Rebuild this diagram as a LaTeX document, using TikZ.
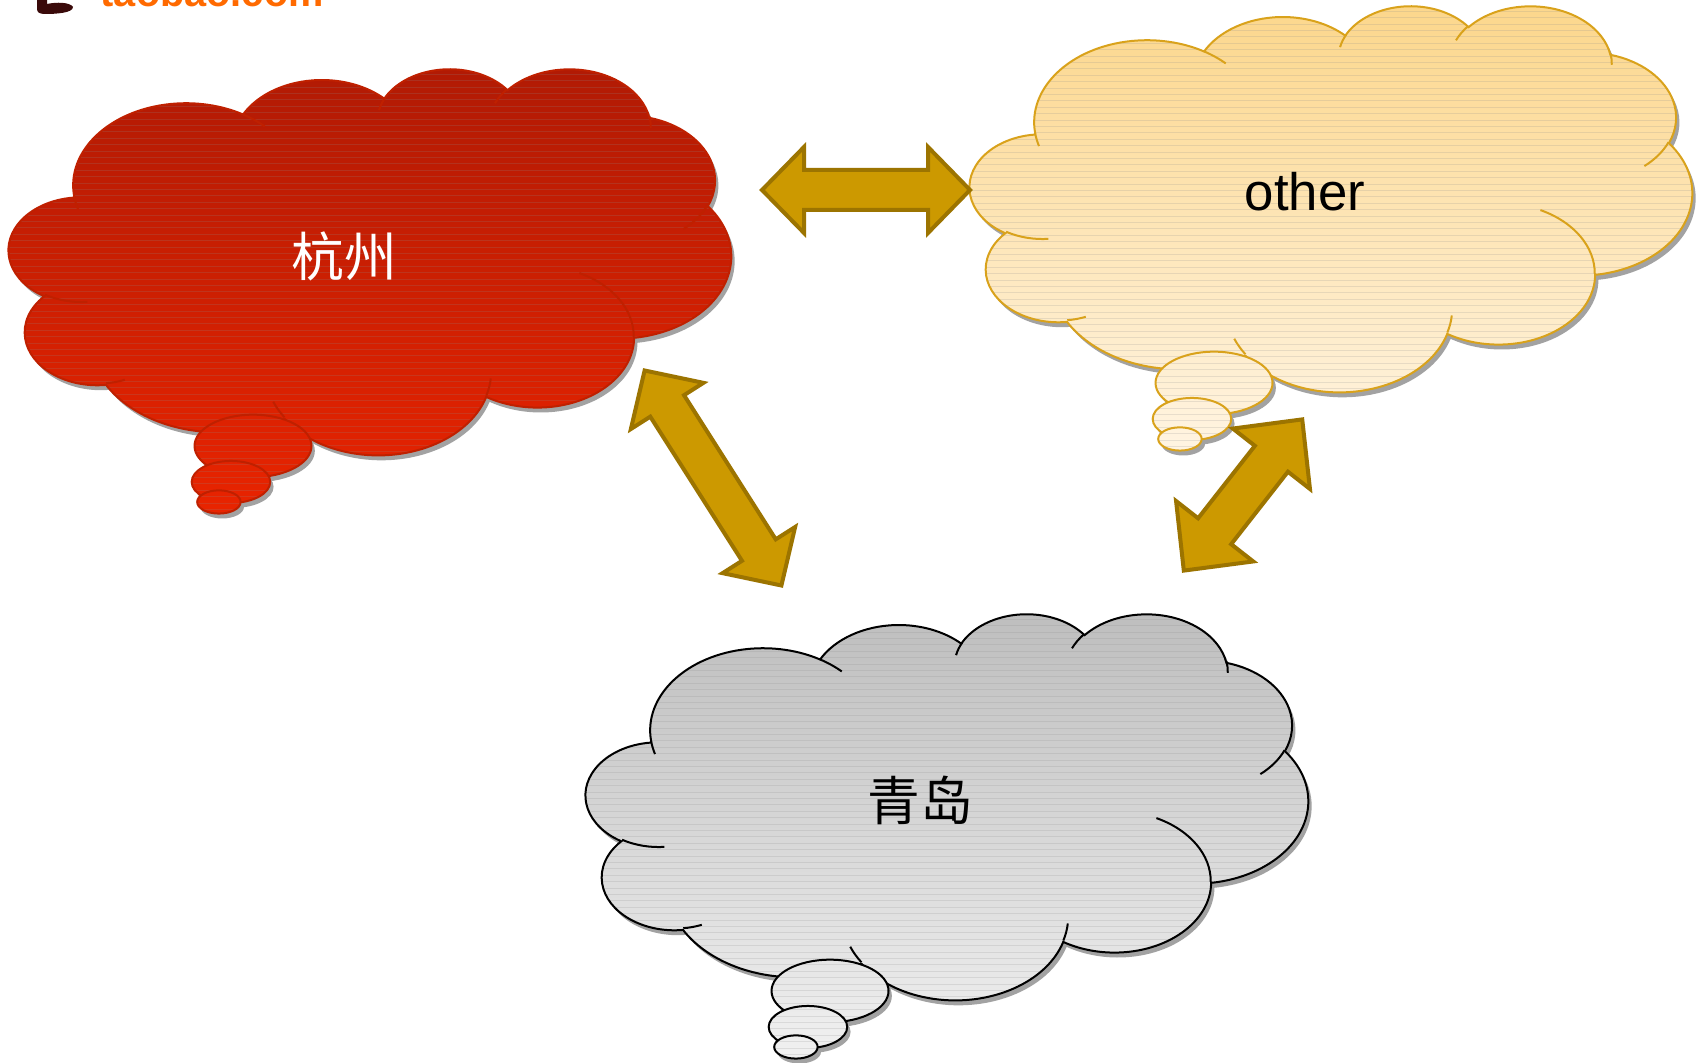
\documentclass[tikz,border=0pt]{standalone}
\usepackage{tikz}
\usepackage{fontspec}
\setmainfont{Liberation Sans}
\newfontfamily\cjk{Noto Sans CJK SC}
\usetikzlibrary{calc}

\definecolor{redtop}{HTML}{B01A04}
\definecolor{redbot}{HTML}{EA2400}
\definecolor{redline}{HTML}{BF2000}
\definecolor{yeltop}{HTML}{FCD68A}
\definecolor{yelbot}{HTML}{FFF5E4}
\definecolor{yelline}{HTML}{D9A21B}
\definecolor{graytop}{HTML}{BDBDBD}
\definecolor{graybot}{HTML}{F2F2F2}
\definecolor{arrowfill}{HTML}{CC9900}
\definecolor{arrowline}{HTML}{9C7400}
\definecolor{shadowgray}{HTML}{A2A2A2}
\definecolor{logoorange}{HTML}{FF6A00}
\definecolor{logodark}{HTML}{3A0A0A}

\tikzset{
  stripe/.style={draw=black!45, line width=0.1mm, opacity=0.2},
  blockarrow/.style={fill=arrowfill, draw=arrowline, line width=0.4mm, line join=miter},
  label/.style={font=\fontsize{15}{18}\selectfont, inner sep=0pt},
}

% ---- cloud outline (preset "cloud" geometry, 43.2 x 43.2 units) ----
\makeatletter
\newcommand\CloudArc[4]{% wR hR start sweep (degrees, visual angles)
  \pgfmathsetmacro\cl@as{#3}%
  \pgfmathsetmacro\cl@ae{#3+#4}%
  \pgfmathsetmacro\cl@ts{atan2(#1*sin(\cl@as),#2*cos(\cl@as))}%
  \pgfmathsetmacro\cl@te{atan2(#1*sin(\cl@ae),#2*cos(\cl@ae))}%
  \pgfmathsetmacro\cl@ts{\cl@ts+360*round((\cl@as-\cl@ts)/360)}%
  \pgfmathsetmacro\cl@te{\cl@te+360*round((\cl@ae-\cl@te)/360)}%
  \xdef\CloudAcc{\CloudAcc arc[start angle=\cl@ts,end angle=\cl@te,x radius=#1,y radius=#2]}%
}
\makeatother

\gdef\CloudAcc{(3.9,14.37)}
\CloudArc{6.753}{9.190}{-190.48748}{123.78053}
\CloudArc{5.333}{7.267}{-144.10238}{89.94523}
\CloudArc{4.365}{5.945}{-145.80792}{99.72302}
\CloudArc{4.857}{6.595}{-130.98607}{117.24173}
\CloudArc{5.333}{7.273}{-78.70888}{109.02692}
\CloudArc{6.775}{9.220}{-46.26725}{130.269}
\CloudArc{5.785}{7.867}{0.62502}{114.03333}
\CloudArc{6.752}{9.215}{22.4516}{115.17255}
\CloudArc{7.720}{10.543}{66.24263}{75.71102}
\CloudArc{4.360}{5.918}{-274.94208}{146.73557}
\CloudArc{4.345}{5.945}{-246.8285}{152.51885}
\global\let\CloudOutline\CloudAcc

\gdef\CloudAcc{}
\xdef\CloudAcc{\CloudAcc (4.693,26.177)}\CloudArc{4.345}{5.945}{86.742}{26.4295}
\xdef\CloudAcc{\CloudAcc (6.928,34.899)}\CloudArc{4.360}{5.918}{73.6105}{11.4475}
\xdef\CloudAcc{\CloudAcc (16.478,39.090)}\CloudArc{6.752}{9.215}{137.6242}{14.0811}
\xdef\CloudAcc{\CloudAcc (28.827,34.751)}\CloudArc{6.752}{9.215}{6.4533}{15.9984}
\xdef\CloudAcc{\CloudAcc (34.129,22.954)}\CloudArc{5.785}{7.867}{-70.2924}{70.9174}
\xdef\CloudAcc{\CloudAcc (41.798,15.354)}\CloudArc{5.333}{7.273}{30.3180}{27.7515}
\xdef\CloudAcc{\CloudAcc (38.324,5.426)}\CloudArc{4.857}{6.595}{-13.7443}{14.8589}
\xdef\CloudAcc{\CloudAcc (29.078,3.952)}\CloudArc{4.857}{6.595}{-149.1815}{18.1954}
\xdef\CloudAcc{\CloudAcc (22.141,4.720)}\CloudArc{4.365}{5.945}{-163.4943}{17.6864}
\xdef\CloudAcc{\CloudAcc (14.000,5.192)}\CloudArc{6.753}{9.190}{-66.7070}{12.3194}
\xdef\CloudAcc{\CloudAcc (4.127,15.789)}\CloudArc{6.753}{9.190}{157.6544}{11.8582}
\global\let\CloudInner\CloudAcc

% one filled part of a cloud: clip, shade, stripes, outline
\newcommand\CloudPart[4]{%
  \begin{scope}
    \clip #1;
    \shade[top color=#2,bottom color=#3] (-1,-1) rectangle (44.2,51);
    \foreach \k in {0,...,72} \draw[stripe] (-1,\k*0.716) -- (44.2,\k*0.716);
  \end{scope}
  \draw[#4, line width=0.2mm] #1;
}

% whole cloud callout: #1,#2 origin (px), #3 top colour, #4 bottom colour, #5 line colour
\newcommand\DrawCloud[5]{%
  \begin{scope}[shift={(#1,#2)}, x=1.6713mm, y=-0.8935mm]
    \begin{scope}[shift={(0.2,0.55)}]
      \fill[shadowgray] \CloudOutline -- cycle;
      \fill[shadowgray] (14.6,42.3) circle[radius=3.5]
                        (13.28,46.33) circle[radius=2.35]
                        (12.56,48.57) circle[radius=1.3];
    \end{scope}
    \CloudPart{\CloudOutline -- cycle}{#3}{#4}{#5}
    \draw[#5, line width=0.2mm] \CloudInner;
    \CloudPart{(14.6,42.3) circle[radius=3.5]}{#3}{#4}{#5}
    \CloudPart{(13.28,46.33) circle[radius=2.35]}{#3}{#4}{#5}
    \CloudPart{(12.56,48.57) circle[radius=1.3]}{#3}{#4}{#5}
  \end{scope}%
}

% double block arrow between two tip coordinates
% #1,#2 tips; #3 head length; #4 head half width; #5 shaft half width
\newcommand\BlockArrow[5]{%
  \draw[blockarrow] (#1)
    -- ($(#1)!#3!(#2)!#4!90:(#2)$)
    -- ($(#1)!#3!(#2)!#5!90:(#2)$)
    -- ($(#2)!#3!(#1)!#5!-90:(#1)$)
    -- ($(#2)!#3!(#1)!#4!-90:(#1)$)
    -- (#2)
    -- ($(#2)!#3!(#1)!#4!90:(#1)$)
    -- ($(#2)!#3!(#1)!#5!90:(#1)$)
    -- ($(#1)!#3!(#2)!#5!-90:(#2)$)
    -- ($(#1)!#3!(#2)!#4!-90:(#2)$)
    -- cycle;%
}

\begin{document}
\begin{tikzpicture}[x=0.1mm, y=-0.1mm]
  \useasboundingbox (0,0) rectangle (1700,1062);
  \clip (0,0) rectangle (1700,1062);
  \fill[white] (0,0) rectangle (1700,1062);

  % logo fragment at the top edge (cut off by the picture's edge, as in the reference)
  \fill[logodark] (37,-2) -- (47,-2) -- (47,4)
    .. controls (56,2) and (70,2) .. (73,7)
    .. controls (73,13) and (56,14) .. (45,14)
    .. controls (39,14) and (37,12) .. (37,9) -- cycle;
  \node[anchor=base west, inner sep=0pt, text=logoorange,
        font=\bfseries\fontsize{11.3}{12}\selectfont] (logo) at (100,7) {taobao.com};

  % clouds
  \DrawCloud{9}{68}{redtop}{redbot}{redline}
  \DrawCloud{970}{5}{yeltop}{yelbot}{yelline}
  \DrawCloud{586}{613}{graytop}{graybot}{black}

  % labels
  \node[label, font=\cjk\fontsize{15}{18}\selectfont, text=white] (hz) at (344,256) {杭州};
  \node[label, anchor=base] (oth) at (1305,211) {other};
  \node[label, font=\cjk\fontsize{15}{18}\selectfont] (qd) at (920,800) {青岛};

  % arrows
  \coordinate (h1) at (762,190);
  \coordinate (h2) at (970,190);
  \coordinate (d1) at (644.6,370.5);
  \coordinate (d2) at (781.4,585.5);
  \coordinate (e1) at (1302.2,419.4);
  \coordinate (e2) at (1183.8,570.6);
  \BlockArrow{h1}{h2}{4.2mm}{4.3mm}{2.0mm}
  \BlockArrow{d1}{d2}{4.2mm}{4.3mm}{2.0mm}
  \BlockArrow{e1}{e2}{5.0mm}{4.9mm}{2.1mm}
\end{tikzpicture}
\end{document}
